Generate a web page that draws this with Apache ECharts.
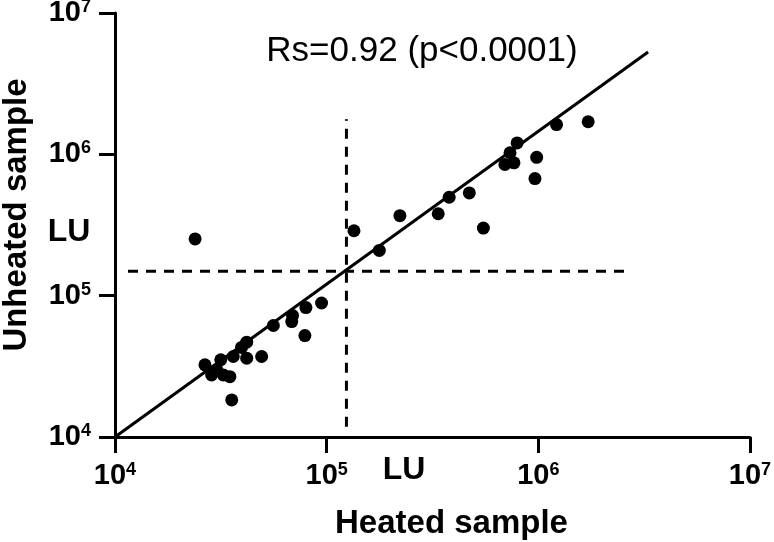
<!DOCTYPE html>
<html>
<head>
<meta charset="utf-8">
<script src="https://cdn.jsdelivr.net/npm/echarts@6/dist/echarts.min.js"></script>
<style>html,body{margin:0;padding:0;background:#fff}#c{width:774px;height:542px}</style>
</head>
<body>
<div id="c"></div>
<script>
// Data
const heated   = [23900,134600,177300,221800,336500,379000,472000,550000,695000,767000,735000,794000,982000,964000,1219000,1720000,94600,79800,69000,68400,56000,78900,41900,39600,36200,41900,49300,31600,26600,28600,32500,34900,35600,30300];
const unheated = [252000,288000,209000,368000,380000,497000,533000,301000,847000,871000,1026000,1205000,953000,674000,1625000,1700000,88700,82400,72400,65600,61500,52200,46900,43000,37100,36100,37100,35200,32400,27500,27500,26700,18300,29900];
const fitX = [10000, 3300000];
const fitY = [10000, 5300000];
const luX = 124000;           // vertical LU cut-off (heated)
const luVy = [11800, 1770000];
const luY = 148600;           // horizontal LU cut-off (unheated)
const luHx = [11520, 2560000];
const tickExponents = [4, 5, 6, 7];
const xTitle = 'Heated sample';
const yTitle = 'Unheated sample';
const statText = 'Rs=0.92 (p<0.0001)';

const FONT = '"Liberation Sans", Arial, sans-serif';
const pts = heated.map((x, i) => [x, unheated[i]]);

function fmt(v) {
  const e = Math.round(Math.log10(v));
  if (tickExponents.indexOf(e) < 0) return '';
  return '{b|10}{s|' + e + '}';
}
const rich = {
  b: {fontSize: 29, fontWeight: 'bold', fontFamily: FONT, color: '#000', lineHeight: 30},
  s: {fontSize: 18, fontWeight: 'bold', fontFamily: FONT, color: '#000', verticalAlign: 'top', lineHeight: 18}
};
const axisCommon = {
  type: 'log', logBase: 10, min: 1e4, max: 1e7, splitNumber: 3,
  axisLine: {show: true, onZero: false, lineStyle: {color: '#000', width: 3}},
  axisTick: {show: true, inside: false, length: 16, lineStyle: {color: '#000', width: 3}},
  minorTick: {show: false},
  splitLine: {show: false},
  nameLocation: 'middle'
};
const labelCommon = {margin: 24, formatter: fmt, rich: rich, fontSize: 29, fontWeight: 'bold', fontFamily: FONT, color: '#000'};

const chart = echarts.init(document.getElementById('c'));
chart.setOption({
  animation: false,
  backgroundColor: '#fff',
  grid: {left: 115, right: 24, top: 13, bottom: 105, containLabel: false, outerBoundsMode: 'none'},
  xAxis: Object.assign({}, axisCommon, {
    name: xTitle, nameGap: 70,
    nameTextStyle: {fontSize: 33, fontWeight: 'bold', fontFamily: FONT, color: '#000', padding: [0, 0, 0, 38]},
    axisLabel: labelCommon
  }),
  yAxis: Object.assign({}, axisCommon, {
    name: yTitle, nameGap: 82,
    nameTextStyle: {fontSize: 33, fontWeight: 'bold', fontFamily: FONT, color: '#000', padding: [0, 0, 0, 20]},
    axisLabel: labelCommon
  }),
  graphic: [
    {type: 'text', x: 422, y: 51, style: {text: statText, font: '35px ' + FONT, fill: '#000', textAlign: 'center', textVerticalAlign: 'middle'}},
    {type: 'text', x: 69, y: 232, style: {text: 'LU', font: 'bold 32px ' + FONT, fill: '#000', textAlign: 'center', textVerticalAlign: 'middle'}},
    {type: 'text', x: 404, y: 470, style: {text: 'LU', font: 'bold 32px ' + FONT, fill: '#000', textAlign: 'center', textVerticalAlign: 'middle'}}
  ],
  series: [
    {type: 'line', data: fitX.map((x, i) => [x, fitY[i]]), symbol: 'none', lineStyle: {color: '#000', width: 3}, z: 2, silent: true},
    {type: 'line', data: luHx.map(x => [x, luY]), symbol: 'none', lineStyle: {color: '#000', width: 3, type: [10, 8]}, z: 2, silent: true},
    {type: 'line', data: luVy.map(y => [luX, y]), symbol: 'none', lineStyle: {color: '#000', width: 3, type: [10, 8]}, z: 2, silent: true},
    {type: 'scatter', data: pts, symbol: 'circle', symbolSize: 13, itemStyle: {color: '#000', opacity: 1}, z: 3}
  ]
});
</script>
</body>
</html>
